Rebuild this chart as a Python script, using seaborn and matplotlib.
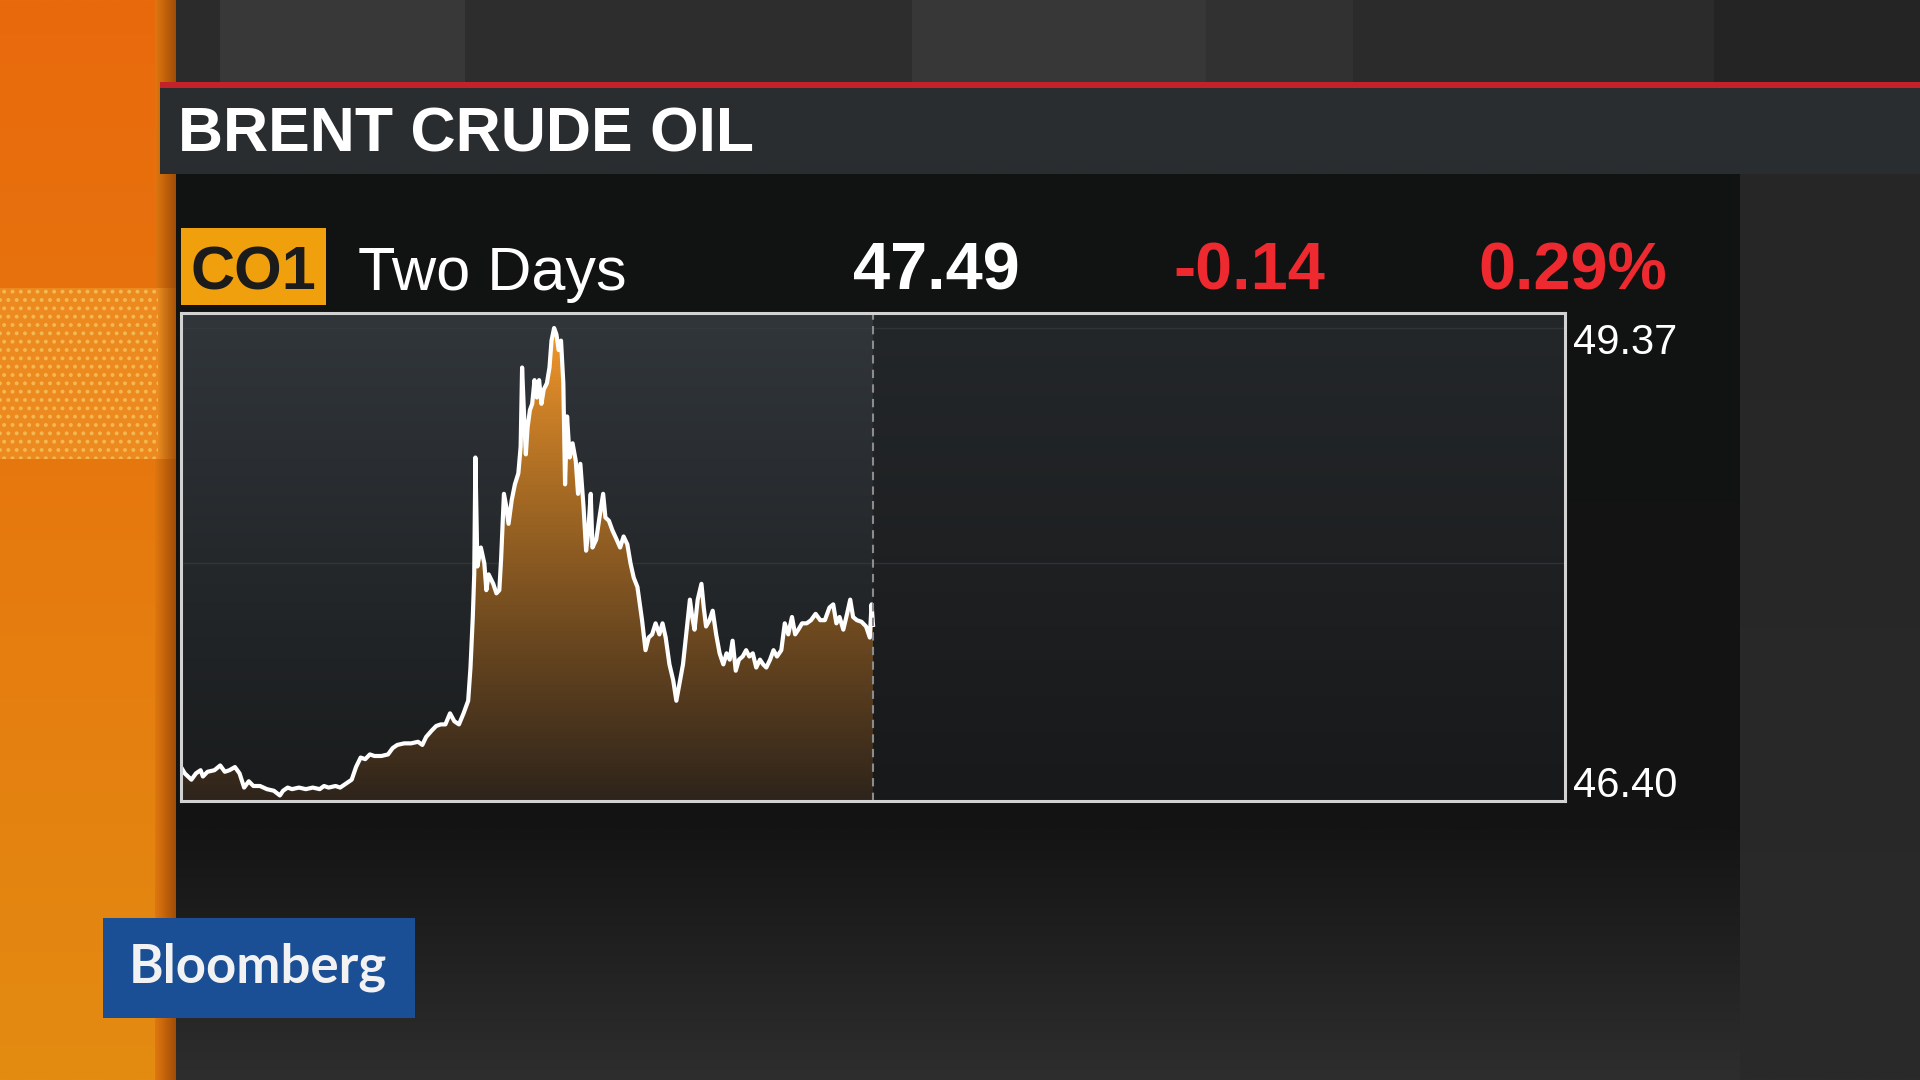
import numpy as np
import matplotlib
matplotlib.use("Agg")
import matplotlib.pyplot as plt
from matplotlib.colors import to_rgb
from matplotlib.patches import Rectangle
from matplotlib.transforms import ScaledTranslation
import seaborn as sns

# Brent crude (CO1) intraday, first day of a two-day window (hours from start)
hours = [0.00, 0.13, 0.36, 0.52, 0.68, 0.76, 0.92, 1.16, 1.36, 1.52,
         1.68, 1.87, 2.03, 2.19, 2.35, 2.51, 2.74, 2.98, 3.22, 3.43,
         3.54, 3.70, 3.85, 4.09, 4.33, 4.57, 4.81, 4.96, 5.12, 5.36,
         5.52, 5.68, 5.92, 6.07, 6.23, 6.39, 6.55, 6.71, 6.95, 7.18,
         7.34, 7.50, 7.74, 7.98, 8.22, 8.37, 8.50, 8.69, 8.85, 9.01,
         9.17, 9.33, 9.48, 9.64, 9.80, 9.96, 10.04, 10.12, 10.17, 10.21,
         10.28, 10.40, 10.52, 10.59, 10.67, 10.83, 10.94, 11.04, 11.10, 11.20,
         11.28, 11.36, 11.47, 11.58, 11.70, 11.78, 11.83, 11.90, 11.96, 12.02,
         12.10, 12.18, 12.26, 12.34, 12.42, 12.50, 12.58, 12.69, 12.78, 12.85,
         12.94, 13.02, 13.10, 13.18, 13.26, 13.32, 13.39, 13.48, 13.58, 13.69,
         13.77, 13.85, 13.96, 14.05, 14.12, 14.21, 14.27, 14.40, 14.53, 14.64,
         14.72, 14.84, 14.96, 15.11, 15.23, 15.35, 15.48, 15.59, 15.70, 15.83,
         15.99, 16.11, 16.22, 16.34, 16.46, 16.59, 16.70, 16.81, 16.94, 17.07,
         17.18, 17.29, 17.41, 17.54, 17.65, 17.73, 17.81, 17.92, 18.05, 18.13,
         18.21, 18.33, 18.44, 18.56, 18.68, 18.81, 18.92, 19.03, 19.13, 19.24,
         19.35, 19.48, 19.60, 19.71, 19.83, 19.95, 20.08, 20.19, 20.30, 20.43,
         20.55, 20.67, 20.82, 20.94, 21.06, 21.19, 21.30, 21.41, 21.54, 21.70,
         21.85, 22.01, 22.17, 22.33, 22.49, 22.62, 22.73, 22.84, 22.97, 23.10,
         23.21, 23.31, 23.44, 23.60, 23.76, 23.89, 23.95, 24.00]
prices = [46.59, 46.55, 46.51, 46.55, 46.57, 46.53, 46.56, 46.57, 46.60, 46.56,
          46.57, 46.59, 46.55, 46.46, 46.50, 46.47, 46.47, 46.45, 46.44, 46.41,
          46.44, 46.46, 46.45, 46.46, 46.45, 46.46, 46.45, 46.47, 46.46, 46.47,
          46.46, 46.48, 46.51, 46.59, 46.65, 46.64, 46.67, 46.66, 46.66, 46.67,
          46.71, 46.73, 46.74, 46.74, 46.75, 46.73, 46.78, 46.82, 46.85, 46.86,
          46.86, 46.93, 46.88, 46.86, 46.93, 47.01, 47.22, 47.54, 47.81, 48.55,
          47.86, 47.98, 47.88, 47.71, 47.81, 47.75, 47.69, 47.71, 47.90, 48.32,
          48.24, 48.13, 48.28, 48.38, 48.45, 48.62, 49.12, 48.81, 48.57, 48.74,
          48.85, 48.89, 49.04, 48.93, 49.04, 48.89, 48.98, 49.02, 49.12, 49.29,
          49.37, 49.33, 49.23, 49.29, 49.02, 48.38, 48.81, 48.55, 48.64, 48.53,
          48.32, 48.51, 48.24, 47.96, 48.07, 48.32, 47.98, 48.03, 48.19, 48.32,
          48.17, 48.15, 48.09, 48.03, 47.98, 48.05, 48.00, 47.88, 47.79, 47.73,
          47.52, 47.33, 47.41, 47.43, 47.50, 47.43, 47.50, 47.41, 47.24, 47.14,
          47.01, 47.12, 47.24, 47.46, 47.65, 47.54, 47.46, 47.65, 47.75, 47.60,
          47.48, 47.52, 47.58, 47.43, 47.31, 47.24, 47.31, 47.27, 47.39, 47.20,
          47.27, 47.29, 47.33, 47.29, 47.31, 47.22, 47.27, 47.24, 47.22, 47.27,
          47.33, 47.29, 47.33, 47.50, 47.43, 47.54, 47.43, 47.46, 47.50, 47.50,
          47.52, 47.56, 47.52, 47.52, 47.60, 47.62, 47.50, 47.54, 47.46, 47.56,
          47.65, 47.54, 47.52, 47.51, 47.48, 47.41, 47.62, 47.49]

title = "BRENT CRUDE OIL"
ticker = "CO1"
period = "Two Days"
last_price = "47.49"
net_change = "-0.14"
pct_change = "0.29%"
y_low, y_high = 46.40, 49.37
session_end = 24
window_hours = 48

plt.rcParams['font.family'] = ['Liberation Sans', 'DejaVu Sans']
plt.rcParams['hatch.linewidth'] = 1.6

fig = plt.figure(figsize=(19.2, 10.8), dpi=100)
fig.patch.set_facecolor('#1f1f1f')

# background canvas in pixel units
bg = fig.add_axes([0, 0, 1, 1])
bg.axis('off')


def vgrad(x0, x1, y0, y1, c0, c1, z=0, horizontal=False):
    a = np.linspace(0, 1, 256)
    a = a[None, :, None] if horizontal else a[:, None, None]
    img = np.array(to_rgb(c0)) * (1 - a) + np.array(to_rgb(c1)) * a
    bg.imshow(img, extent=[x0, x1, y1, y0], aspect='auto', zorder=z,
              interpolation='bilinear')


# top band blocks
vgrad(0, 1920, 0, 90, '#262626', '#222222', z=0)
for x0, x1, c in [(175, 220, '#2b2b2b'), (220, 465, '#383838'), (465, 912, '#2d2d2d'),
                  (912, 1206, '#373737'), (1206, 1353, '#313131'), (1353, 1714, '#2b2b2b'),
                  (1714, 1920, '#242424')]:
    bg.add_patch(Rectangle((x0, 0), x1 - x0, 90, color=c, zorder=1, lw=0))

# main black panel + bottom fade
vgrad(175, 1740, 174, 830, '#111312', '#131413', z=1)
vgrad(175, 1740, 830, 1080, '#131413', '#2e2e2e', z=1)
vgrad(1740, 1920, 174, 1080, '#262626', '#2a2a2a', z=1)

# orange strip on the left
vgrad(0, 175, 0, 1080, '#e9690c', '#e38b12', z=2)
vgrad(155, 176, 0, 1080, '#e07810', '#a04c06', z=3, horizontal=True)
bg.add_patch(Rectangle((0, 288), 175, 171, facecolor='#ec8a20', edgecolor='#f4b850',
                       hatch='..', lw=0, zorder=3))
vgrad(158, 176, 288, 459, '#e88a20', '#a65208', z=3, horizontal=True)

# header band
bg.add_patch(Rectangle((160, 82), 1760, 6, color='#c3222b', zorder=4, lw=0))
bg.add_patch(Rectangle((160, 88), 1760, 86, color='#2a2d30', zorder=4, lw=0))
bg.text(178, 152, title, color='white', fontsize=45, fontweight='bold',
        va='baseline', ha='left', zorder=6)

# quote row
bg.add_patch(Rectangle((181, 228), 145, 77, color='#efa00c', zorder=4, lw=0))
bg.text(253, 290, ticker, color='#1b1b1b', fontsize=44, fontweight='bold',
        va='baseline', ha='center', zorder=6)
bg.text(358, 290, period, color='white', fontsize=44, va='baseline', ha='left', zorder=6)
bg.text(1020, 290, last_price, color='white', fontsize=48, fontweight='bold',
        va='baseline', ha='right', zorder=6)
bg.text(1325, 290, net_change, color='#ee2a30', fontsize=48, fontweight='bold',
        va='baseline', ha='right', zorder=6)
bg.text(1667, 290, pct_change, color='#ee2a30', fontsize=48, fontweight='bold',
        va='baseline', ha='right', zorder=6)

# Bloomberg bug
bg.add_patch(Rectangle((103, 918), 312, 100, color='#1a4e95', zorder=5, lw=0))
bg.text(258, 982, "Bloomberg", color='#f2f2f2', fontsize=38, fontweight='bold',
        family=['Lato', 'DejaVu Sans'], va='baseline', ha='center', zorder=6)

bg.set_xlim(0, 1920)
bg.set_ylim(1080, 0)

# price chart
ax = fig.add_axes([181 / 1920, 1 - 801 / 1080, 1384 / 1920, 488 / 1080])
ylo = y_low - 0.025
yhi = y_high + 0.095
ax.set_xlim(0, window_hours)
ax.set_ylim(ylo, yhi)

a = np.linspace(0, 1, 256)[:, None, None]
left_bg = np.array(to_rgb('#31363b')) * (1 - a) + np.array(to_rgb('#191b1c')) * a
right_bg = np.array(to_rgb('#24272a')) * (1 - a) + np.array(to_rgb('#18191a')) * a
ax.imshow(left_bg, extent=[0, session_end, ylo, yhi], aspect='auto', zorder=0)
ax.imshow(right_bg, extent=[session_end, window_hours, ylo, yhi], aspect='auto', zorder=0)

for lvl in [y_high, (y_high + y_low) / 2]:
    ax.axhline(lvl, color='#363b40', lw=1, alpha=0.7, zorder=1)

# orange gradient area under the line
fill = ax.fill_between(hours, prices, ylo, color='none', lw=0)
g = a ** 0.85
fill_img = np.array(to_rgb('#f89a2a')) * (1 - g) + np.array(to_rgb('#2e241b')) * g
im = ax.imshow(fill_img, extent=[0, session_end, ylo, y_high], aspect='auto', zorder=2)
im.set_clip_path(fill.get_paths()[0], transform=ax.transData)

sns.lineplot(x=hours, y=prices, ax=ax, color='white', lw=3.0, zorder=4)
ax.axvline(session_end, color='#8c8c8c', lw=1.5, ls=(0, (4, 3)), zorder=5)

ax.set_xlim(0, window_hours)
ax.set_ylim(ylo, yhi)
ax.set_xticks([])
ax.yaxis.tick_right()
ax.set_yticks([y_low, y_high])
ax.set_yticklabels([f"{y_low:.2f}", f"{y_high:.2f}"])
ax.tick_params(axis='y', length=0, pad=6, labelsize=30, labelcolor='white')
ylabels = ax.get_yticklabels()
ylabels[0].set_va('baseline')
ylabels[1].set_va('top')
ylabels[1].set_transform(ylabels[1].get_transform() +
                         ScaledTranslation(0, 0.05, fig.dpi_scale_trans))
ax.set_xlabel('')
ax.set_ylabel('')
for s in ax.spines.values():
    s.set_color('#d2d2d2')
    s.set_linewidth(2.2)
    s.set_zorder(6)

fig.savefig('out.png', dpi=100, facecolor=fig.get_facecolor())
